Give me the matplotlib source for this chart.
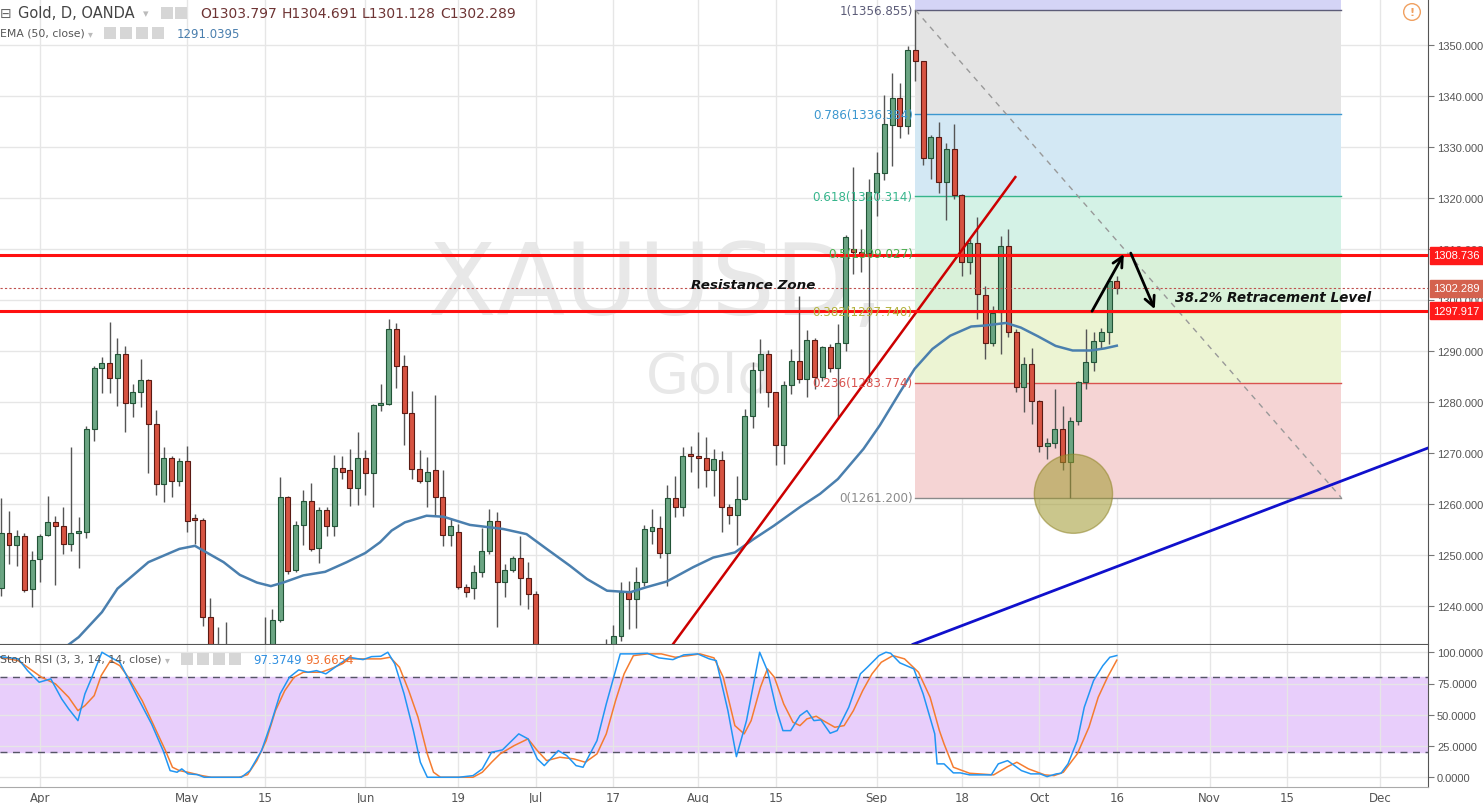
import numpy as np
import pandas as pd
import matplotlib
matplotlib.use('Agg')
import matplotlib.pyplot as plt
from matplotlib.patches import Ellipse, Rectangle

# ---------------------------------------------------------------------
# data (XAUUSD daily, OANDA)
# ---------------------------------------------------------------------
first_day, last_day = '2017-03-27', '2017-12-29'
holidays = ['2017-04-14']
first_pos = -5          # Mar 27 sits 5 bars left of Apr 3 (bar 0)

opens = [
    1243.5, 1254.4, 1252.0, 1253.7, 1243.3,
    1249.2, 1253.9, 1256.4, 1255.6, 1252.2,
    1254.4, 1254.6, 1274.7, 1286.7,
    1287.6, 1284.8, 1289.5, 1279.9, 1282.0,
    1284.3, 1275.7, 1263.9, 1269.0, 1264.5,
    1268.4, 1257.2, 1256.9, 1237.8, 1228.0,
    1227.5, 1226.5, 1216.0, 1219.0, 1225.0,
    1228.5, 1231.0, 1237.3, 1261.3, 1247.1,
    1255.9, 1260.5, 1251.3, 1258.8, 1255.7,
    1267.0, 1266.7, 1263.1, 1269.0, 1266.0,
    1279.4, 1279.6, 1294.3, 1287.0, 1277.8,
    1266.9, 1264.6, 1266.7, 1261.3, 1254.0,
    1254.6, 1243.8, 1243.5, 1246.6, 1250.7,
    1256.7, 1244.8, 1247.1, 1249.4, 1245.5,
    1242.4, 1219.5, 1222.0, 1225.5, 1223.0,
    1212.0, 1213.5, 1215.5, 1218.5, 1217.0,
    1228.5, 1234.2, 1242.7, 1241.4, 1244.7,
    1254.7, 1255.2, 1250.3, 1261.1, 1259.4,
    1269.6, 1269.5, 1269.0, 1266.7, 1268.7,
    1259.4, 1257.9, 1261.0, 1277.3, 1286.3,
    1289.4, 1281.9, 1271.6, 1283.3, 1288.0,
    1284.6, 1292.2, 1285.0, 1290.7, 1286.7,
    1291.5, 1310.0, 1309.5, 1309.3, 1321.2,
    1324.9, 1334.4, 1339.6, 1334.1, 1349.0,
    1346.8, 1327.8, 1331.9, 1323.2, 1329.6,
    1320.6, 1307.4, 1311.1, 1301.0, 1291.5,
    1297.6, 1310.5, 1293.7, 1282.9, 1287.5,
    1280.1, 1271.3, 1271.9, 1274.8, 1268.3,
    1276.3, 1284.0, 1287.8, 1291.9, 1293.7,
    1303.797,
]
highs = [
    1261.2, 1258.6, 1254.9, 1254.3, 1250.8,
    1254.1, 1261.5, 1257.7, 1259.4, 1271.1,
    1257.4, 1275.2, 1287.0, 1288.8,
    1295.7, 1292.5, 1290.9, 1283.5, 1288.4,
    1284.6, 1278.4, 1271.1, 1269.5, 1269.0,
    1271.3, 1258.0, 1257.2, 1241.6, 1235.8,
    1236.8, 1229.0, 1221.0, 1226.5, 1231.0,
    1237.8, 1239.4, 1265.2, 1261.6, 1256.7,
    1262.8, 1264.1, 1259.4, 1259.4, 1269.6,
    1269.4, 1270.8, 1274.2, 1270.5, 1279.6,
    1283.5, 1296.3, 1295.5, 1289.2, 1282.1,
    1270.6, 1269.2, 1281.4, 1266.7, 1257.1,
    1256.1, 1244.3, 1248.0, 1255.2, 1259.0,
    1258.4, 1248.2, 1249.9, 1253.7, 1248.6,
    1243.0, 1226.5, 1229.0, 1230.0, 1226.0,
    1216.0, 1221.0, 1222.0, 1221.0, 1233.5,
    1236.3, 1244.8, 1245.0, 1247.7, 1255.9,
    1259.0, 1257.7, 1263.7, 1265.4, 1271.1,
    1271.3, 1274.2, 1273.1, 1270.8, 1270.3,
    1260.0, 1265.4, 1278.6, 1287.9, 1292.4,
    1290.1, 1282.0, 1284.2, 1290.4, 1300.8,
    1294.1, 1292.5, 1291.0, 1291.4, 1295.3,
    1312.7, 1326.0, 1313.9, 1323.7, 1329.0,
    1340.1, 1344.6, 1342.5, 1349.9, 1356.855,
    1346.8, 1332.3, 1335.0, 1330.8, 1334.5,
    1320.8, 1312.0, 1316.2, 1302.8, 1298.9,
    1312.5, 1313.9, 1294.3, 1288.8, 1290.5,
    1280.3, 1273.0, 1282.5, 1279.3, 1277.0,
    1284.2, 1294.3, 1293.7, 1294.5, 1304.1,
    1304.691,
]
lows = [
    1242.0, 1248.2, 1247.9, 1242.7, 1239.9,
    1244.8, 1253.8, 1244.1, 1250.2, 1250.8,
    1247.4, 1253.4, 1272.3, 1281.7,
    1281.7, 1279.2, 1274.2, 1277.0, 1279.0,
    1266.0, 1261.8, 1260.3, 1261.3, 1263.5,
    1254.5, 1252.2, 1236.1, 1226.5, 1223.0,
    1225.0, 1214.0, 1214.5, 1217.0, 1222.0,
    1227.0, 1229.0, 1236.8, 1246.3, 1246.6,
    1252.0, 1250.8, 1248.4, 1253.7, 1253.7,
    1264.9, 1259.7, 1259.8, 1261.8, 1259.4,
    1278.2, 1279.5, 1282.7, 1271.6, 1264.9,
    1264.1, 1259.5, 1257.7, 1251.8, 1251.8,
    1243.3, 1241.7, 1241.4, 1245.6, 1250.2,
    1235.8, 1241.7, 1246.6, 1240.1, 1239.4,
    1218.0, 1218.0, 1216.5, 1220.0, 1205.5,
    1207.0, 1208.0, 1214.0, 1214.0, 1214.5,
    1226.5, 1233.2, 1235.5, 1235.6, 1244.0,
    1252.2, 1249.5, 1244.0, 1257.4, 1257.7,
    1266.2, 1263.1, 1263.4, 1261.6, 1254.6,
    1256.1, 1252.0, 1260.8, 1275.0, 1281.7,
    1279.0, 1267.6, 1267.8, 1281.6, 1283.7,
    1280.9, 1282.5, 1284.2, 1285.8, 1276.7,
    1290.0, 1305.1, 1305.4, 1283.9, 1316.5,
    1323.5, 1326.3, 1331.7, 1332.5, 1343.0,
    1326.5, 1323.7, 1321.0, 1315.7, 1319.8,
    1304.8, 1305.1, 1296.3, 1288.4, 1291.0,
    1289.4, 1292.7, 1281.9, 1278.0, 1275.7,
    1270.1, 1268.8, 1270.9, 1266.7, 1261.2,
    1275.5, 1282.5, 1286.1, 1290.4, 1291.4,
    1301.128,
]
closes = [
    1254.4, 1252.0, 1253.7, 1243.2, 1249.1,
    1253.8, 1256.4, 1255.6, 1252.2, 1254.4,
    1254.7, 1274.7, 1286.7, 1287.6,
    1284.8, 1289.5, 1279.9, 1282.0, 1284.3,
    1275.7, 1263.9, 1269.0, 1264.5, 1268.5,
    1256.7, 1256.8, 1237.8, 1228.0, 1227.5,
    1226.5, 1216.0, 1219.0, 1225.0, 1228.5,
    1231.0, 1237.3, 1261.4, 1246.9, 1255.9,
    1260.5, 1251.2, 1258.8, 1255.7, 1267.0,
    1266.3, 1263.1, 1269.0, 1266.0, 1279.4,
    1279.7, 1294.3, 1287.0, 1277.8, 1266.9,
    1264.6, 1266.3, 1261.3, 1254.0, 1255.7,
    1243.8, 1242.8, 1246.6, 1250.7, 1256.7,
    1244.8, 1247.1, 1249.4, 1245.5, 1242.4,
    1219.5, 1222.0, 1225.5, 1223.0, 1212.0,
    1213.5, 1215.5, 1218.5, 1217.0, 1228.5,
    1234.2, 1242.7, 1241.4, 1244.7, 1255.1,
    1255.5, 1250.3, 1261.1, 1259.4, 1269.5,
    1269.4, 1269.0, 1266.7, 1268.8, 1259.4,
    1257.9, 1261.0, 1277.3, 1286.3, 1289.4,
    1281.9, 1271.6, 1283.3, 1288.0, 1284.6,
    1292.2, 1285.0, 1290.7, 1286.7, 1291.5,
    1312.3, 1309.5, 1309.0, 1321.2, 1324.9,
    1334.5, 1339.6, 1334.1, 1349.0, 1346.8,
    1327.8, 1332.0, 1323.2, 1329.6, 1320.6,
    1307.4, 1311.1, 1301.2, 1291.5, 1297.4,
    1310.5, 1293.7, 1282.9, 1287.5, 1280.1,
    1271.3, 1271.9, 1274.8, 1268.3, 1276.3,
    1284.0, 1287.8, 1291.9, 1293.7, 1303.8,
    1302.289,
]

# EMA(50) as traced (bar position, price)
ema_pos = [2, 5, 8, 10, 12, 14, 16, 18, 20, 21.5, 23.7, 25.8, 28, 29.8, 31.4, 34,
           36.8, 39.6, 42, 43.9, 45.4, 47.1, 49.9, 52.1, 55.5, 59.8, 62.8, 65.4,
           68.4, 70.6, 73.2, 76.2, 78.3, 80.9, 84.3, 86.9, 89.7, 92.1, 94.7, 98.1,
           100.7, 103, 106.3, 108.4, 111, 112.9, 115.2, 117.5, 120.2, 122, 124.7,
           126.6, 128.8, 131.1, 133.3, 135.6, 137.4, 139]
ema_val = [1230.5, 1233.9, 1238.8, 1243.4, 1246.0, 1248.6, 1249.9, 1251.2, 1251.8,
           1250.5, 1248.6, 1246.1, 1244.6, 1243.9, 1244.6, 1246.0, 1246.7, 1248.6,
           1250.4, 1252.5, 1254.8, 1256.4, 1257.7, 1257.5, 1255.9, 1255.1, 1254.1,
           1251.2, 1247.9, 1245.3, 1243.0, 1242.7, 1243.7, 1244.8, 1247.6, 1249.5,
           1250.5, 1253.1, 1255.7, 1259.4, 1262.0, 1264.9, 1270.8, 1275.4, 1281.9,
           1286.5, 1290.4, 1293.0, 1294.8, 1295.0, 1295.5, 1294.6, 1292.9, 1291.0,
           1290.1, 1290.1, 1290.5, 1291.04]

# Stoch RSI %K (blue) and %D (orange)
k_pos = [-5.2, -2.8, -1.6, -0.1, 1.4, 2.8, 3.7, 4.9, 5.8, 6.7, 8.0, 9.1, 10.3, 11.4,
         12.6, 14.4, 15.9, 16.8, 17.7, 18.3, 19.1, 20.3, 21.2, 26.0, 27.1, 28.6,
         29.8, 31.0, 32.2, 33.4, 34.6, 35.7, 36.9, 38.1, 39.9, 41.7, 42.8, 44.0,
         44.9, 45.8, 47.0, 48.2, 49.1, 50.0, 54.1, 55.9, 57.1, 58.3, 59.7, 61.8,
         63.0, 64.2, 65.1, 66.9, 68.0, 69.2, 70.1, 71.9, 73.1, 74.9, 76.6, 78.4,
         79.9, 81.7, 83.1, 84.9, 86.4, 87.3, 88.8, 89.9, 91.2, 92.9, 93.9, 95.1,
         95.9, 96.9, 98.1, 99.0, 99.9, 100.8, 102.0, 102.9, 104.4, 105.9, 106.8,
         108.3, 109.2, 109.8, 111.0, 112.8, 114.0, 115.5, 115.8, 116.7, 117.9,
         118.8, 120.0, 122.8, 123.7, 124.9, 126.7, 127.9, 129.1, 130.0, 131.2,
         131.8, 132.7, 133.9, 134.8, 136.0, 137.2, 138.1, 139.0]
k_val = [96.5, 94.7, 85.3, 76.0, 78.7, 62.7, 54.7, 45.3, 66.7, 80.0, 100.0, 96.0,
         92.0, 78.7, 64.0, 42.7, 21.3, 5.3, 4.0, 6.7, 2.7, 2.1, 0.0, 0.0, 5.3, 21.3,
         42.7, 66.7, 80.0, 85.9, 84.0, 85.3, 82.7, 88.0, 96.0, 94.1, 96.5, 96.8,
         100.0, 90.7, 66.7, 37.3, 12.0, 0.0, 0.0, 1.3, 6.7, 20.0, 21.9, 34.7, 30.7,
         14.7, 9.3, 21.3, 17.3, 9.3, 8.0, 29.3, 58.7, 98.7, 98.7, 99.2, 95.5, 94.1,
         97.9, 98.7, 94.7, 93.3, 53.3, 16.5, 45.3, 100.0, 85.3, 53.3, 37.3, 37.3,
         49.3, 53.3, 45.3, 45.9, 35.2, 37.3, 56.0, 82.7, 88.0, 97.3, 100.0, 99.2,
         91.5, 86.7, 66.7, 34.7, 10.7, 10.7, 3.5, 3.5, 1.9, 1.9, 10.7, 13.3, 5.3,
         2.7, 2.7, 0.5, 2.7, 3.2, 10.7, 29.3, 56.0, 77.3, 89.3, 96.0, 97.37]
d_pos = [-5.2, -2.8, -1.6, 0.2, 2.0, 3.7, 4.9, 5.8, 7.0, 7.9, 9.1, 10.3, 11.4, 13.2,
         15.0, 16.2, 17.1, 18.0, 19.1, 20.9, 22.1, 25.7, 26.8, 28.0, 29.2, 30.4,
         31.6, 32.8, 34.0, 36.3, 37.5, 39.0, 39.9, 41.7, 44.0, 45.2, 46.4, 47.6,
         48.8, 50.0, 50.8, 51.7, 55.9, 57.1, 58.3, 59.4, 61.2, 63.0, 64.2, 65.4,
         67.1, 68.9, 70.4, 71.9, 73.1, 74.3, 75.4, 76.6, 78.4, 80.2, 82.0, 83.7,
         85.2, 87.0, 88.2, 89.7, 90.9, 91.8, 93.0, 93.9, 94.8, 96.0, 97.2, 98.1,
         99.0, 100.2, 101.1, 102.6, 103.8, 105.0, 106.2, 107.4, 108.6, 110.1,
         111.6, 113.4, 114.9, 116.1, 116.7, 117.9, 120.0, 123.1, 124.9, 126.1,
         127.6, 129.7, 130.9, 132.1, 133.9, 135.4, 136.6, 137.8, 139.0]
d_val = [96.0, 93.3, 88.0, 80.0, 74.7, 64.0, 53.3, 57.3, 65.3, 81.3, 93.3, 89.3,
         80.0, 61.3, 37.3, 21.3, 8.0, 5.3, 4.0, 1.3, 0.0, 0.0, 2.1, 13.3, 29.3, 53.3,
         69.3, 80.0, 84.0, 84.0, 86.7, 90.7, 94.7, 94.7, 94.7, 96.0, 88.0, 69.3,
         48.0, 18.7, 4.0, 0.0, 0.0, 4.0, 12.0, 18.7, 25.3, 30.7, 21.3, 13.3, 16.0,
         14.7, 12.0, 18.7, 34.7, 61.3, 82.7, 97.3, 98.7, 98.7, 96.0, 97.3, 98.7,
         95.5, 80.0, 41.3, 34.7, 45.3, 72.0, 86.7, 80.0, 58.7, 44.0, 41.3, 46.7,
         48.8, 45.3, 40.0, 41.3, 53.3, 69.3, 82.7, 92.0, 97.3, 94.7, 84.0, 64.0,
         37.3, 26.7, 8.0, 3.2, 1.9, 8.5, 12.0, 6.7, 1.9, 1.3, 4.0, 18.7, 40.0,
         64.0, 80.0, 93.67]

# Fibonacci retracement (Sep 8 high -> Oct 6 low)
fib_low, fib_high = 1261.2, 1356.855
fib_start, fib_end = '2017-09-08', '2017-11-24'
fib_ratios = [0, 0.236, 0.382, 0.5, 0.618, 0.786, 1]
fib_labels = ['0(1261.200)', '0.236(1283.774)', '0.382(1297.740)', '0.5(1309.027)',
              '0.618(1320.314)', '0.786(1336.384)', '1(1356.855)']

# hand-drawn objects
resistance_levels = [1308.736, 1297.917]
last_price = 1302.289
red_tl_pos, red_tl_val = [81.7, 125.9], [1232.5, 1324.1]
blue_tl_pos, blue_tl_val = [112.7, 179.2], [1232.5, 1271.0]
arrow_up = [(135.8, 1297.8), (139.9, 1309.0)]
arrow_down = [(140.8, 1309.2), (143.9, 1298.2)]
circle_center, circle_size = (133.4, 1262.0), (10.1, 15.5)

tick_dates = ['2017-04-03', '2017-05-01', '2017-05-15', '2017-06-01', '2017-06-19',
              '2017-07-03', '2017-07-17', '2017-08-01', '2017-08-15', '2017-09-01',
              '2017-09-18', '2017-10-02', '2017-10-16', '2017-11-01', '2017-11-15',
              '2017-12-01']
tick_labels = ['Apr', 'May', '15', 'Jun', '19', 'Jul', '17', 'Aug', '15', 'Sep', '18',
               'Oct', '16', 'Nov', '15', 'Dec']

# ---------------------------------------------------------------------
# bar positions
# ---------------------------------------------------------------------
days = pd.bdate_range(first_day, last_day)
days = days[~days.isin(pd.to_datetime(holidays))]
bar_of = {d: i + first_pos for i, d in enumerate(days)}
pos = np.arange(len(opens)) + first_pos
o, h, l, c = map(np.array, (opens, highs, lows, closes))
xt = [bar_of[pd.Timestamp(d)] for d in tick_dates]

W, H = 1483, 804
fig = plt.figure(figsize=(W / 100, H / 100), dpi=100)
fig.patch.set_facecolor('white')
ax = fig.add_axes([0, 159 / H, 1428 / W, 645 / H])
ax2 = fig.add_axes([0, 16 / H, 1428 / W, 142 / H])

XL = (-5.16, 179.17)
ax.set_xlim(*XL)
ax.set_ylim(1232.55, 1359.02)
ax2.set_xlim(*XL)
ax2.set_ylim(-7.8, 105.8)

axis_font = ['Liberation Sans', 'DejaVu Sans']
grid_c = '#e6e6e6'
for a in (ax, ax2):
    for s in ('top', 'left'):
        a.spines[s].set_visible(False)
    a.spines['right'].set_color('#555555')
    a.spines['bottom'].set_color('#555555')
    a.yaxis.tick_right()
    a.tick_params(axis='y', length=4, color='#777777', labelsize=8.0,
                  labelcolor='#555555', pad=2.5)
    a.set_xticks(xt)
    a.grid(True, color=grid_c, lw=1, zorder=0)
    a.set_axisbelow(True)

yt = np.arange(1240, 1351, 10)
ax.set_yticks(yt)
ax.set_yticklabels([f'{v:.3f}' for v in yt], family=axis_font)
ax.tick_params(axis='x', length=0, labelbottom=False)

st = [0, 25, 50, 75, 100]
ax2.set_yticks(st)
ax2.set_yticklabels([f'{v:.4f}' for v in st], family=axis_font)
ax2.set_xticklabels(tick_labels, family=['Liberation Sans Narrow', 'DejaVu Sans'],
                    fontsize=8.5, color='#555555')
ax2.tick_params(axis='x', length=0, pad=3)
ax2.spines['bottom'].set_color('#aaaaaa')

# watermark
ax.text(86.5, 1302.7, 'XAUUSD, D', fontsize=72, color='#e8e8e8', ha='center',
        va='center', zorder=0.5)
ax.text(86.5, 1284.9, 'Gold', fontsize=40, color='#e8e8e8', ha='center',
        va='center', zorder=0.5)

# fibonacci zones
fx0, fx1 = bar_of[pd.Timestamp(fib_start)], bar_of[pd.Timestamp(fib_end)]
fib_levels = [fib_low + r * (fib_high - fib_low) for r in fib_ratios]
zone_cols = ['#f5d4d4', '#ecf4d3', '#d9f1d9', '#d4f2e6', '#d3e8f4', '#e4e4e4']
line_cols = ['#8a8a8a', '#d9534f', '#b3b33d', '#4caf50', '#36b58c', '#3c97cf', '#5c5c78']
for k in range(len(fib_levels) - 1):
    ax.add_patch(Rectangle((fx0, fib_levels[k]), fx1 - fx0,
                           fib_levels[k + 1] - fib_levels[k], facecolor=zone_cols[k],
                           edgecolor='none', zorder=1))
ax.add_patch(Rectangle((fx0, fib_levels[-1]), fx1 - fx0, 10, facecolor='#d4d4f6',
                       edgecolor='none', zorder=1))
for lv, lab, col in zip(fib_levels, fib_labels, line_cols):
    ax.plot([fx0, fx1], [lv, lv], color=col, lw=1, zorder=1.5)
    ax.text(fx0 - 0.35, lv, lab, color=col, fontsize=8.6, ha='right', va='center',
            zorder=4)
ax.plot([fx0, fx1], [fib_high, fib_low], color='#999999', lw=1, ls=(0, (4, 4)),
        zorder=1.6)

# candles
up = c >= o
up_fill, up_edge = '#6ba583', '#225437'
dn_fill, dn_edge = '#d75442', '#5b1a13'
ax.vlines(pos, l, h, color='#555555', lw=1, zorder=2)
body_lo = np.minimum(o, c)
body_h = np.maximum(np.abs(c - o), 0.35)
ax.bar(pos[up], body_h[up], bottom=body_lo[up], width=0.64, color=up_fill,
       edgecolor=up_edge, lw=0.8, zorder=2.2)
ax.bar(pos[~up], body_h[~up], bottom=body_lo[~up], width=0.64, color=dn_fill,
       edgecolor=dn_edge, lw=0.8, zorder=2.2)

# EMA 50
ax.plot(ema_pos, ema_val, color='#4a7fae', lw=1.8, zorder=2.6)

# trend lines
ax.plot(red_tl_pos, red_tl_val, color='#cc0000', lw=1.8, zorder=2.7)
ax.plot(blue_tl_pos, blue_tl_val, color='#1010cc', lw=2, zorder=2.7)

# resistance zone lines and last price
for lv in resistance_levels:
    ax.axhline(lv, color='#ff1010', lw=2.2, zorder=3)
ax.axhline(last_price, color='#c0504d', lw=0.8, ls=(0, (2, 2)), zorder=3)

# circle on the low
ax.add_patch(Ellipse(circle_center, circle_size[0], circle_size[1],
                     facecolor='#a0982e', edgecolor='#8f8428', alpha=0.55, lw=1,
                     zorder=3.2))

# arrows
for (a0, a1) in (arrow_up, arrow_down):
    ax.annotate('', xy=a1, xytext=a0, zorder=3.5,
                arrowprops=dict(arrowstyle='->', color='black', lw=2,
                                mutation_scale=18, shrinkA=0, shrinkB=0))

# annotations
ax.text(92.1, 1303.0, 'Resistance Zone', fontsize=9.7, fontweight='bold',
        style='italic', ha='center', va='center', color='#111111', zorder=4)
ax.text(159.2, 1300.6, '38.2% Retracement Level', fontsize=9.8, fontweight='bold',
        style='italic', ha='center', va='center', color='#111111', zorder=4)

# price labels on right scale
for lv, fc in ((resistance_levels[0], '#ff1a1a'), (last_price, '#d4624e'),
               (resistance_levels[1], '#ff1a1a')):
    ax.annotate(f'{lv:.3f}', xy=(1.0, lv), xycoords=('axes fraction', 'data'),
                xytext=(4, 0), textcoords='offset points', ha='left', va='center',
                fontsize=8.0, color='white', family=axis_font, annotation_clip=False,
                bbox=dict(boxstyle='square,pad=0.3', facecolor=fc, edgecolor=fc),
                zorder=6)

# stoch RSI panel
ax2.axhspan(20, 80, color='#e8cefb', zorder=0.5)
for lv in (80, 20):
    ax2.axhline(lv, color='#555566', lw=1, ls=(0, (5, 4)), zorder=1)
ax2.plot(k_pos, k_val, color='#2196f3', lw=1.1, zorder=3)
ax2.plot(d_pos, d_val, color='#f57c30', lw=1.1, zorder=2.9)


# header texts
def fx(x):
    return x / W


def fy(y):
    return 1 - y / H


def icons(x_list, y):
    for x in x_list:
        fig.patches.append(Rectangle((fx(x), fy(y + 6)), 12 / W, 12 / H,
                                     transform=fig.transFigure, facecolor='#d6d6d6',
                                     edgecolor='none', zorder=5))


fig.text(fx(0), fy(14), '\u229f', fontsize=10, color='#666666', va='center')
fig.text(fx(18), fy(14), 'Gold, D, OANDA', fontsize=10.5, color='#444444', va='center')
fig.text(fx(143), fy(14), '\u25be', fontsize=8, color='#bbbbbb', va='center')
icons([161, 175], 14)
for x, s in ((200, 'O1303.797'), (282, 'H1304.691'), (362, 'L1301.128'),
             (440, 'C1302.289')):
    fig.text(fx(x), fy(14), s, fontsize=10, color='#6e3434', va='center')

fig.text(fx(0), fy(34), 'EMA (50, close)', fontsize=7.8, color='#555555', va='center')
fig.text(fx(88), fy(34), '\u25be', fontsize=7, color='#bbbbbb', va='center')
icons([104, 120, 136, 152], 34)
fig.text(fx(177), fy(34), '1291.0395', fontsize=8.5, color='#4a7fae', va='center')

fig.text(fx(0), fy(660), 'Stoch RSI (3, 3, 14, 14, close)', fontsize=7.8,
         color='#555555', va='center', zorder=6)
fig.text(fx(165), fy(660), '\u25be', fontsize=7, color='#bbbbbb', va='center')
icons([181, 197, 213, 229], 660)
fig.text(fx(253), fy(660), '97.3749', fontsize=8.5, color='#2f8fe0', va='center')
fig.text(fx(305), fy(660), '93.6654', fontsize=8.5, color='#f07030', va='center')

fig.text(fx(1412), fy(13), '!', fontsize=8, color='#f0a060', ha='center',
         va='center', fontweight='bold',
         bbox=dict(boxstyle='circle,pad=0.3', facecolor='white', edgecolor='#f0a060'))

fig.savefig('out.png', dpi=100)
